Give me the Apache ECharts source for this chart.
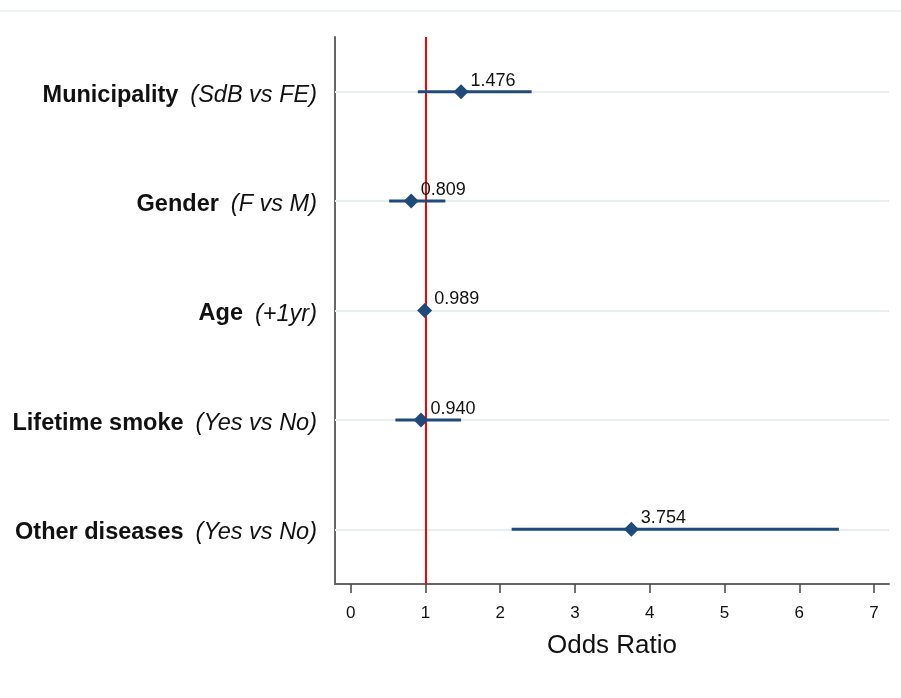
<!DOCTYPE html>
<html>
<head>
<meta charset="utf-8">
<script src="https://cdn.jsdelivr.net/npm/echarts@6/dist/echarts.min.js"></script>
<style>
html,body{margin:0;padding:0;background:#fff;}
#chart{width:901px;height:698px;}
</style>
</head>
<body>
<div id="chart"></div>
<script>
const categories = ['Municipality', 'Gender', 'Age', 'Lifetime smoke', 'Other diseases'];
const contrasts = ['(SdB vs FE)', '(F vs M)', '(+1yr)', '(Yes vs No)', '(Yes vs No)'];
const oddsRatio = [1.476, 0.809, 0.989, 0.940, 3.754];
const ciLow = [0.898, 0.514, 0.965, 0.598, 2.153];
const ciHigh = [2.420, 1.266, 1.013, 1.476, 6.530];
const xTicks = [0, 1, 2, 3, 4, 5, 6, 7];
const refValue = 1;

const font = '"Liberation Sans", Arial, Helvetica, sans-serif';
const blue = '#1f4a7a';

const chart = echarts.init(document.getElementById('chart'), null, {renderer: 'canvas'});

const pointData = categories.map((c, i) => [oddsRatio[i], i]);

const ciSeries = categories.map((c, i) => ({
  type: 'line',
  z: 3,
  silent: true,
  showSymbol: false,
  symbol: 'none',
  data: [[ciLow[i], i], [ciHigh[i], i]],
  lineStyle: {color: blue, width: 3, cap: 'butt'},
  itemStyle: {color: blue}
}));

chart.setOption({
  animation: false,
  backgroundColor: '#fff',
  graphic: [{
    type: 'line',
    shape: {x1: 0, y1: 11, x2: 901, y2: 11},
    style: {stroke: '#eaf0f0', lineWidth: 1.5},
    silent: true
  }],
  grid: {left: 335, right: 12, top: 37, bottom: 114, containLabel: false},
  xAxis: {
    type: 'value',
    min: -0.21,
    max: 7.2,
    name: 'Odds Ratio',
    nameLocation: 'middle',
    nameGap: 49,
    nameTextStyle: {fontFamily: font, fontSize: 26, color: '#111'},
    axisLine: {show: true, onZero: false, lineStyle: {color: '#666', width: 2}},
    axisTick: {show: true, length: 9, lineStyle: {color: '#444', width: 1.5}, customValues: xTicks},
    axisLabel: {fontFamily: font, fontSize: 17, color: '#111', margin: 21, customValues: xTicks},
    splitLine: {show: false}
  },
  yAxis: {
    type: 'category',
    data: categories,
    inverse: true,
    axisLine: {show: true, onZero: false, lineStyle: {color: '#666', width: 2}},
    axisTick: {show: false},
    splitLine: {show: false},
    axisLabel: {
      margin: 18,
      formatter: (v, i) => '{b|' + v + '}{i|' + contrasts[i] + '}',
      rich: {
        b: {fontFamily: font, fontSize: 23.5, fontWeight: 'bold', color: '#111', padding: [7, 0, 0, 0]},
        i: {fontFamily: font, fontSize: 23.5, fontStyle: 'italic', color: '#111', padding: [7, 0, 0, 12]}
      }
    }
  },
  series: [
    {
      type: 'scatter',
      data: [],
      z: 1,
      silent: true,
      markLine: {
        z: 1,
        silent: true,
        symbol: 'none',
        label: {show: false},
        lineStyle: {color: '#e6eef0', width: 2, type: 'solid'},
        data: categories.map((c, i) => ({yAxis: i}))
      }
    },
    {
      type: 'scatter',
      data: [],
      z: 2,
      silent: true,
      markLine: {
        z: 2,
        silent: true,
        symbol: 'none',
        label: {show: false},
        lineStyle: {color: '#ff0000', width: 2, type: 'solid'},
        data: [{xAxis: refValue}]
      }
    },
    ...ciSeries,
    {
      type: 'scatter',
      z: 4,
      data: pointData,
      symbol: 'diamond',
      symbolSize: [15, 15],
      itemStyle: {color: blue, opacity: 1},
      label: {
        show: true,
        position: 'right',
        distance: 2,
        offset: [0, -11],
        formatter: p => p.value[0].toFixed(3),
        fontFamily: font,
        fontSize: 18,
        color: '#111'
      }
    }
  ]
});
</script>
</body>
</html>
